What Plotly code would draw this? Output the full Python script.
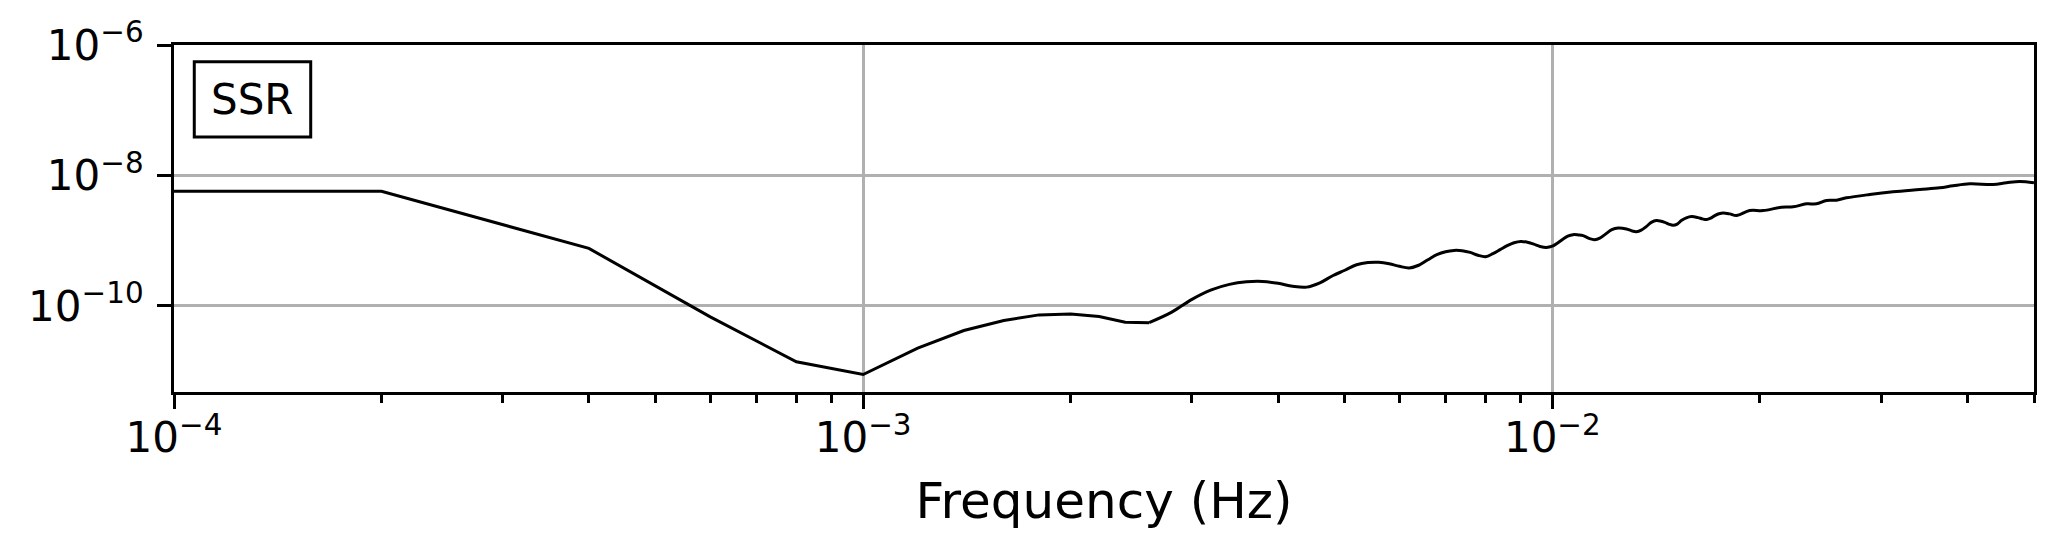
import plotly.graph_objects as go

# Frequency (Hz) and SSR amplitude
freq = [
    1.0e-4, 2.0e-4, 4.0e-4, 6.0e-4, 8.0e-4, 1.0e-3, 1.2e-3, 1.4e-3, 1.6e-3, 1.8e-3,
    2.0e-3, 2.2e-3, 2.4e-3, 2.6e-3, 2.8e-3, 3.0e-3, 3.2e-3, 3.4e-3, 3.6e-3, 3.8e-3,
    4.0e-3, 4.2e-3, 4.4e-3, 4.6e-3, 4.8e-3, 5.0e-3, 5.2e-3, 5.4e-3, 5.6e-3, 5.8e-3,
    6.0e-3, 6.2e-3, 6.4e-3, 6.6e-3, 6.8e-3, 7.0e-3, 7.2e-3, 7.4e-3, 7.6e-3, 7.8e-3,
    8.0e-3, 8.2e-3, 8.4e-3, 8.6e-3, 8.8e-3, 9.0e-3, 9.2e-3, 9.4e-3, 9.6e-3, 9.8e-3,
    1.0e-2, 1.037e-2, 1.053e-2, 1.072e-2, 1.091e-2, 1.108e-2, 1.133e-2, 1.152e-2,
    1.172e-2, 1.192e-2, 1.220e-2, 1.246e-2, 1.281e-2, 1.304e-2, 1.325e-2, 1.346e-2,
    1.370e-2, 1.392e-2, 1.416e-2, 1.456e-2, 1.476e-2, 1.497e-2, 1.518e-2, 1.539e-2,
    1.565e-2, 1.592e-2, 1.627e-2, 1.651e-2, 1.674e-2, 1.698e-2, 1.721e-2, 1.745e-2,
    1.769e-2, 1.809e-2, 1.850e-2, 1.934e-2, 2.022e-2, 2.150e-2, 2.236e-2, 2.338e-2,
    2.417e-2, 2.500e-2, 2.584e-2, 2.672e-2, 2.888e-2, 3.122e-2, 3.414e-2, 3.649e-2,
    3.815e-2, 4.034e-2, 4.361e-2, 4.560e-2, 4.767e-2, 5.0e-2,
]
ssr = [
    5.73e-9, 5.73e-9, 7.61e-10, 6.78e-11, 1.39e-11, 8.87e-12, 2.26e-11, 4.20e-11, 5.98e-11, 7.28e-11,
    7.53e-11, 6.87e-11, 5.61e-11, 5.53e-11, 7.94e-11, 1.26e-10, 1.76e-10, 2.14e-10, 2.34e-10, 2.37e-10,
    2.22e-10, 2.00e-10, 1.94e-10, 2.26e-10, 2.90e-10, 3.52e-10, 4.27e-10, 4.62e-10, 4.67e-10, 4.43e-10,
    4.05e-10, 3.82e-10, 4.20e-10, 5.10e-10, 6.10e-10, 6.78e-10, 7.10e-10, 7.02e-10, 6.61e-10, 5.98e-10,
    5.68e-10, 6.31e-10, 7.28e-10, 8.38e-10, 9.31e-10, 9.75e-10, 9.48e-10, 8.83e-10, 8.15e-10, 7.85e-10,
    8.22e-10, 1.062e-9, 1.173e-9, 1.237e-9, 1.224e-9, 1.194e-9, 1.073e-9, 1.036e-9,
    1.093e-9, 1.237e-9, 1.476e-9, 1.568e-9, 1.514e-9, 1.415e-9, 1.375e-9, 1.450e-9,
    1.660e-9, 1.905e-9, 2.031e-9, 1.912e-9, 1.794e-9, 1.719e-9, 1.794e-9, 2.031e-9,
    2.235e-9, 2.340e-9, 2.259e-9, 2.157e-9, 2.104e-9, 2.219e-9, 2.424e-9, 2.584e-9,
    2.668e-9, 2.575e-9, 2.424e-9, 2.894e-9, 2.894e-9, 3.253e-9, 3.300e-9, 3.670e-9,
    3.670e-9, 4.125e-9, 4.169e-9, 4.539e-9, 5.102e-9, 5.613e-9, 6.088e-9, 6.468e-9,
    6.941e-9, 7.453e-9, 7.269e-9, 7.722e-9, 8.085e-9, 7.722e-9,
]

x_major = [1e-4, 1e-3, 1e-2]
x_major_labels = ["10<sup>−4</sup>", "10<sup>−3</sup>", "10<sup>−2</sup>"]
x_minor = [2e-4, 3e-4, 4e-4, 5e-4, 6e-4, 7e-4, 8e-4, 9e-4,
           2e-3, 3e-3, 4e-3, 5e-3, 6e-3, 7e-3, 8e-3, 9e-3,
           2e-2, 3e-2, 4e-2, 5e-2]
y_major = [1e-6, 1e-8, 1e-10]
y_major_labels = ["10<sup>−6</sup>", "10<sup>−8</sup>", "10<sup>−10</sup>"]

label_text = "SSR"
x_title = "Frequency (Hz)"

FONT = "DejaVu Sans"
SPLIT = 13  # index of 2.6e-3 Hz: sharp segments below, smooth curve above

fig = go.Figure()
fig.add_trace(go.Scatter(
    x=freq[:SPLIT + 1], y=ssr[:SPLIT + 1], mode="lines",
    line=dict(color="black", width=3),
    showlegend=False,
))
fig.add_trace(go.Scatter(
    x=freq[SPLIT:], y=ssr[SPLIT:], mode="lines",
    line=dict(color="black", width=3, shape="spline", smoothing=1.0),
    showlegend=False,
))

fig.update_layout(
    width=2063, height=557,
    margin=dict(l=174, r=29, t=45, b=165, pad=0),
    paper_bgcolor="white", plot_bgcolor="white",
    font=dict(family=FONT, size=42, color="black"),
)

fig.update_xaxes(
    type="log", range=[-4, -1.30103],
    showline=True, linecolor="black", linewidth=3, mirror=True,
    showgrid=True, gridcolor="#b0b0b0", gridwidth=3,
    zeroline=False,
    tickmode="array", tickvals=x_major, ticktext=x_major_labels,
    ticks="outside", ticklen=14, tickwidth=3, tickcolor="black",
    ticklabelstandoff=-7,
    tickfont=dict(family=FONT, size=42, color="black"),
    minor=dict(tickmode="array", tickvals=x_minor, ticks="outside",
               ticklen=8, tickwidth=2.5, tickcolor="black", showgrid=False),
    title=dict(text=x_title, font=dict(family=FONT, size=50, color="black"), standoff=22),
    automargin=False,
)
fig.update_yaxes(
    type="log", range=[-11.32, -6.0],
    showline=True, linecolor="black", linewidth=3, mirror=True,
    showgrid=True, gridcolor="#b0b0b0", gridwidth=3,
    zeroline=False,
    tickmode="array", tickvals=y_major, ticktext=y_major_labels,
    ticks="outside", ticklen=14, tickwidth=3, tickcolor="black",
    ticklabelstandoff=5,
    tickfont=dict(family=FONT, size=42, color="black"),
    automargin=False,
)

# label box
fig.add_shape(type="rect", xref="paper", yref="paper",
              x0=0.0109, x1=0.0735, y0=0.7346, y1=0.9518,
              line=dict(color="black", width=3), fillcolor="white", layer="above")
fig.add_annotation(text=label_text, xref="paper", yref="paper",
                   x=0.0422, y=0.8434, xanchor="center", yanchor="middle",
                   showarrow=False, font=dict(family=FONT, size=42, color="black"))

fig.write_html("out.html", config={"displayModeBar": False},
               post_script="document.body.style.margin='0';")
